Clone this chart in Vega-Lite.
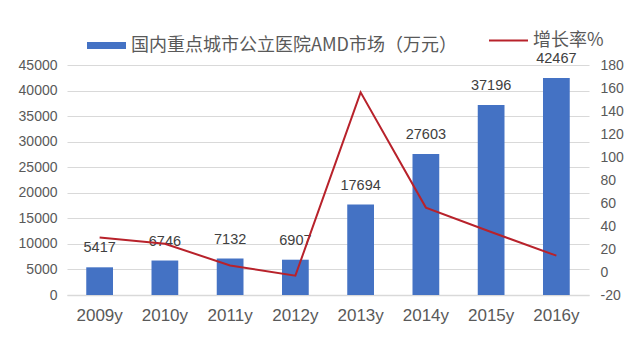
{
  "$schema": "https://vega.github.io/schema/vega-lite/v6.json",
  "autosize": "none",
  "width": 522,
  "height": 230,
  "padding": {"left": 67, "top": 65, "right": 51, "bottom": 58},
  "background": "white",
  "config": {
    "view": {"stroke": null},
    "font": "Noto Sans CJK SC",
    "axis": {"labelColor": "#595959", "labelFont": "Liberation Sans"},
    "legend": {"labelColor": "#595959", "labelFont": "Noto Sans CJK SC"}
  },
  "data": {
    "values": [
      {"year": "2009y", "market": 5417, "growth": 30},
      {"year": "2010y", "market": 6746, "growth": 24.5},
      {"year": "2011y", "market": 7132, "growth": 5.7},
      {"year": "2012y", "market": 6907, "growth": -3.2},
      {"year": "2013y", "market": 17694, "growth": 156.2},
      {"year": "2014y", "market": 27603, "growth": 56.0},
      {"year": "2015y", "market": 37196, "growth": 34.8},
      {"year": "2016y", "market": 42467, "growth": 14.2}
    ]
  },
  "encoding": {
    "x": {
      "field": "year",
      "type": "nominal",
      "sort": null,
      "scale": {"paddingInner": 0.59, "paddingOuter": 0.295},
      "axis": {
        "title": null,
        "labelAngle": 0,
        "labelFontSize": 17,
        "labelPadding": 12,
        "ticks": false,
        "domainColor": "#d9d9d9",
        "domainWidth": 1.5
      }
    }
  },
  "layer": [
    {
      "mark": {"type": "bar"},
      "encoding": {
        "y": {
          "field": "market",
          "type": "quantitative",
          "scale": {"domain": [0, 45000], "nice": false},
          "axis": {
            "title": null,
            "values": [0, 5000, 10000, 15000, 20000, 25000, 30000, 35000, 40000, 45000],
            "format": "d",
            "labelOverlap": false,
            "labelFontSize": 14,
            "labelPadding": 10,
            "ticks": false,
            "domain": false,
            "grid": true,
            "gridColor": "#d9d9d9",
            "gridWidth": 1.2
          }
        },
        "fill": {
          "datum": "国内重点城市公立医院AMD市场（万元）",
          "scale": {"range": ["#4472C4"]},
          "legend": {
            "title": null,
            "orient": "none",
            "legendX": 20,
            "legendY": -39,
            "symbolType": "M-1,-0.18H1V0.18H-1Z",
            "symbolSize": 1521,
            "symbolStrokeWidth": 0,
            "labelFontSize": 18,
            "labelLimit": 600,
            "labelOffset": 5
          }
        }
      }
    },
    {
      "mark": {"type": "text", "dy": -19, "fontSize": 14.5, "color": "#404040", "font": "Liberation Sans"},
      "encoding": {
        "y": {
          "field": "market",
          "type": "quantitative",
          "scale": {"domain": [0, 45000], "nice": false},
          "axis": null
        },
        "text": {"field": "market", "type": "quantitative", "format": "d"}
      }
    },
    {
      "mark": {"type": "line", "strokeWidth": 2},
      "encoding": {
        "y": {
          "field": "growth",
          "type": "quantitative",
          "scale": {"domain": [-20, 180], "nice": false},
          "axis": {
            "title": null,
            "orient": "right",
            "values": [-20, 0, 20, 40, 60, 80, 100, 120, 140, 160, 180],
            "labelExpr": "'' + datum.value",
            "labelOverlap": false,
            "labelFontSize": 14,
            "labelPadding": 11,
            "ticks": false,
            "domain": false,
            "grid": false
          }
        },
        "stroke": {
          "datum": "增长率%",
          "scale": {"range": ["#B8222B"]},
          "legend": {
            "title": null,
            "orient": "none",
            "legendX": 421,
            "legendY": -45,
            "symbolType": "stroke",
            "symbolSize": 1521,
            "symbolStrokeWidth": 2,
            "labelFontSize": 18,
            "labelOffset": 4
          }
        }
      }
    }
  ],
  "resolve": {"scale": {"y": "independent"}}
}
